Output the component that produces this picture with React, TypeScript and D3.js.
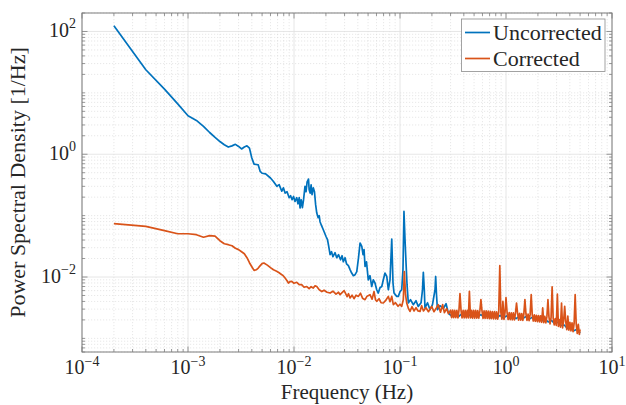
import React from 'react';
import * as d3 from 'd3';

// values: [frequency (Hz), PSD (1/Hz)]
const uncorrected: [number, number][] = [
  [2e-4, 124], [4e-4, 23.8], [6e-4, 11.5], [8e-4, 6.6], [1e-3, 4.24], [1.2e-3, 3.55], [1.4e-3, 2.84],
  [1.6e-3, 2.26], [1.8e-3, 1.88], [2e-3, 1.61], [2.2e-3, 1.43], [2.4e-3, 1.31], [2.6e-3, 1.37],
  [2.8e-3, 1.45], [3e-3, 1.34], [3.2e-3, 1.22], [3.4e-3, 1.31], [3.6e-3, 1.37], [3.8e-3, 1.26],
  [4e-3, 0.87], [4.2e-3, 0.69], [4.4e-3, 0.68], [4.6e-3, 0.67], [4.8e-3, 0.525], [5e-3, 0.49],
  [5.4e-3, 0.48], [6e-3, 0.41], [6.4e-3, 0.36], [6.89e-3, 0.3], [7.24e-3, 0.32], [7.67e-3, 0.25],
  [7.94e-3, 0.284], [8.24e-3, 0.233], [8.6e-3, 0.245], [9.0e-3, 0.196], [9.29e-3, 0.211],
  [9.6e-3, 0.1815], [9.9e-3, 0.205], [1.023e-2, 0.17], [1.062e-2, 0.196], [1.09e-2, 0.156],
  [1.12e-2, 0.196], [1.14e-2, 0.133], [1.17e-2, 0.1815], [1.2e-2, 0.135], [1.23e-2, 0.18],
  [1.27e-2, 0.3], [1.3e-2, 0.245], [1.33e-2, 0.356], [1.37e-2, 0.394], [1.39e-2, 0.264],
  [1.42e-2, 0.233], [1.45e-2, 0.318], [1.48e-2, 0.219], [1.52e-2, 0.284], [1.56e-2, 0.245],
  [1.6e-2, 0.151], [1.64e-2, 0.11], [1.69e-2, 0.0925], [1.73e-2, 0.0995], [1.76e-2, 0.0796],
  [1.82e-2, 0.0685], [1.89e-2, 0.0589], [1.94e-2, 0.0526], [2.01e-2, 0.0453], [2.07e-2, 0.0405],
  [2.12e-2, 0.0324], [2.19e-2, 0.0231], [2.26e-2, 0.0258], [2.33e-2, 0.0214], [2.44e-2, 0.0249],
  [2.53e-2, 0.0206], [2.63e-2, 0.0231], [2.75e-2, 0.0191], [2.84e-2, 0.0222], [2.92e-2, 0.0177],
  [3.03e-2, 0.0206], [3.13e-2, 0.0164], [3.26e-2, 0.0153], [3.38e-2, 0.0132], [3.49e-2, 0.0117],
  [3.63e-2, 0.0105], [3.77e-2, 0.0109], [3.91e-2, 0.0122], [4.06e-2, 0.0206], [4.2e-2, 0.0358],
  [4.36e-2, 0.0315], [4.48e-2, 0.0231], [4.58e-2, 0.0279], [4.68e-2, 0.0149], [4.83e-2, 0.0177],
  [5.02e-2, 0.009], [5.21e-2, 0.0105], [5.41e-2, 0.007], [5.6e-2, 0.009], [5.81e-2, 0.00798],
  [6.03e-2, 0.0062], [6.24e-2, 0.00548], [6.47e-2, 0.0067], [6.73e-2, 0.007], [6.96e-2, 0.009],
  [7.22e-2, 0.0116], [7.5e-2, 0.0102], [7.76e-2, 0.0062], [8.05e-2, 0.009], [8.36e-2, 0.0416],
  [8.59e-2, 0.00798], [8.78e-2, 0.00548], [9.31e-2, 0.00483], [9.64e-2, 0.00483], [0.1, 0.00577],
  [0.1038, 0.0062], [0.1067, 0.0132], [0.109, 0.117], [0.1115, 0.0406], [0.114, 0.0169],
  [0.1165, 0.0075], [0.1198, 0.00378], [0.1256, 0.00427], [0.1334, 0.00354], [0.1416, 0.00411],
  [0.1486, 0.00332], [0.158, 0.0038], [0.163, 0.0062], [0.166, 0.0119], [0.1695, 0.0062],
  [0.172, 0.00313], [0.1817, 0.0038], [0.192, 0.00293], [0.2025, 0.00354], [0.214, 0.0062],
  [0.217, 0.0102], [0.221, 0.00515], [0.2256, 0.00293], [0.238, 0.00341], [0.256, 0.00305],
  [0.272, 0.00367], [0.2835, 0.00272],
  [0.29, 2.52e-3], [0.31, 2.28e-3], [0.333, 2.51e-3], [0.357, 2.27e-3], [0.383, 2.5e-3], [0.41, 2.27e-3],
  [0.44, 2.48e-3], [0.47, 2.25e-3], [0.505, 2.46e-3], [0.54, 2.25e-3], [0.58, 2.44e-3], [0.62, 2.23e-3],
  [0.665, 2.42e-3], [0.715, 2.18e-3], [0.765, 2.39e-3], [0.82, 2.16e-3], [0.88, 2.37e-3], [0.945, 2.14e-3],
  [1.01, 2.33e-3], [1.085, 2.12e-3], [1.16, 2.31e-3], [1.245, 2.1e-3], [1.335, 2.29e-3], [1.43, 2.09e-3],
  [1.535, 2.26e-3], [1.645, 2.04e-3], [1.765, 2.2e-3], [1.89, 2.0e-3], [2.03, 2.15e-3], [2.175, 1.94e-3],
  [2.33, 2.06e-3], [2.5, 1.85e-3], [2.68, 1.96e-3], [2.87, 1.75e-3], [3.08, 1.83e-3], [3.3, 1.62e-3],
  [3.54, 1.65e-3], [3.8, 1.45e-3], [4.07, 1.54e-3], [4.36, 1.33e-3], [4.68, 1.41e-3], [5.0, 1.21e-3],
];

const corrected: [number, number][] = [
  [2e-4, 0.0738], [4e-4, 0.0667], [6e-4, 0.0568], [8e-4, 0.0507], [1e-3, 0.0507], [1.2e-3, 0.0489],
  [1.4e-3, 0.0445], [1.6e-3, 0.0471], [1.8e-3, 0.0462], [2e-3, 0.039], [2.2e-3, 0.0348], [2.4e-3, 0.0336],
  [2.6e-3, 0.0323], [2.8e-3, 0.0294], [3e-3, 0.0279], [3.2e-3, 0.0258], [3.4e-3, 0.0239], [3.6e-3, 0.0206],
  [3.8e-3, 0.0171], [4e-3, 0.0147], [4.2e-3, 0.0128], [4.4e-3, 0.0131], [4.6e-3, 0.014], [4.8e-3, 0.0153],
  [5e-3, 0.0165], [5.2e-3, 0.0169], [5.6e-3, 0.0156], [6e-3, 0.0142], [6.4e-3, 0.0131],
  [6.86e-3, 0.0124], [7.24e-3, 0.0117], [7.67e-3, 0.0109], [7.98e-3, 0.0103], [8.24e-3, 0.0096],
  [8.6e-3, 0.0087], [8.86e-3, 0.00798], [9.16e-3, 0.0084], [9.53e-3, 0.0085], [1.0e-2, 0.0079],
  [1.062e-2, 0.0082], [1.12e-2, 0.0075], [1.18e-2, 0.0075], [1.245e-2, 0.0068], [1.32e-2, 0.007],
  [1.39e-2, 0.00645], [1.45e-2, 0.00695], [1.52e-2, 0.0066], [1.58e-2, 0.0072], [1.64e-2, 0.007],
  [1.73e-2, 0.0062], [1.83e-2, 0.0058], [1.92e-2, 0.0061], [2.05e-2, 0.00565], [2.19e-2, 0.00548],
  [2.33e-2, 0.00587], [2.49e-2, 0.00525], [2.63e-2, 0.00565], [2.72e-2, 0.00515], [2.84e-2, 0.00555],
  [2.97e-2, 0.00598], [3.03e-2, 0.0056], [3.17e-2, 0.00478], [3.27e-2, 0.00535], [3.38e-2, 0.00455],
  [3.53e-2, 0.00505], [3.68e-2, 0.00443], [3.85e-2, 0.00505], [4.05e-2, 0.00483], [4.24e-2, 0.00544],
  [4.43e-2, 0.00452], [4.68e-2, 0.00427], [4.89e-2, 0.00487], [5.21e-2, 0.00515], [5.45e-2, 0.00435],
  [5.69e-2, 0.0058], [5.87e-2, 0.00427], [6.03e-2, 0.00401], [6.34e-2, 0.00443], [6.62e-2, 0.00381],
  [6.96e-2, 0.00377], [7.3e-2, 0.00411], [7.76e-2, 0.00483], [8.05e-2, 0.00396], [8.36e-2, 0.00483],
  [8.65e-2, 0.00354], [9.07e-2, 0.00381], [9.58e-2, 0.00334], [0.1, 0.0036], [0.1038, 0.00332],
  [0.1074, 0.00427], [0.1099, 0.0123], [0.1128, 0.00515], [0.1157, 0.00377], [0.1203, 0.00305],
  [0.1242, 0.00275], [0.1297, 0.00328], [0.1355, 0.0028], [0.1416, 0.00316], [0.148, 0.0028],
  [0.1545, 0.00275], [0.16, 0.00341], [0.1665, 0.0028], [0.1757, 0.00316], [0.1856, 0.00272],
  [0.199, 0.00332], [0.209, 0.00272], [0.221, 0.00316], [0.2296, 0.00354], [0.241, 0.00267],
  [0.2525, 0.00354], [0.2625, 0.00262], [0.2754, 0.00305], [0.2865, 0.00253],
  [0.3, 2.88e-3], [0.307, 2.17e-3], [0.314, 2.88e-3], [0.321, 2.17e-3], [0.3285, 2.87e-3], [0.336, 2.17e-3],
  [0.344, 2.87e-3], [0.352, 2.16e-3], [0.36, 2.87e-3], [0.368, 5.35e-3], [0.3765, 2.87e-3], [0.385, 2.16e-3],
  [0.394, 2.86e-3], [0.403, 2.16e-3], [0.4125, 2.86e-3], [0.422, 2.15e-3], [0.4315, 2.86e-3], [0.4415, 2.15e-3],
  [0.4515, 5.83e-3], [0.462, 2.15e-3], [0.4725, 2.85e-3], [0.4835, 2.14e-3], [0.4945, 2.85e-3], [0.506, 2.14e-3],
  [0.5175, 2.85e-3], [0.5295, 2.14e-3], [0.5415, 2.84e-3], [0.554, 2.13e-3], [0.567, 2.83e-3], [0.58, 4.27e-3],
  [0.5935, 2.82e-3], [0.607, 2.12e-3], [0.621, 2.81e-3], [0.635, 2.12e-3], [0.65, 2.8e-3], [0.665, 2.11e-3],
  [0.68, 2.78e-3], [0.696, 2.1e-3], [0.712, 2.76e-3], [0.728, 2.09e-3], [0.745, 2.74e-3], [0.762, 2.08e-3],
  [0.78, 2.72e-3], [0.798, 2.07e-3], [0.816, 2.7e-3], [0.835, 2.06e-3], [0.854, 2.69e-3], [0.874, 1.53e-2],
  [0.894, 2.68e-3], [0.914, 2.05e-3], [0.935, 4.0e-3], [0.957, 2.04e-3], [0.979, 2.65e-3], [1.0, 4.6e-3],
  [1.024, 2.64e-3], [1.048, 2.03e-3], [1.072, 2.63e-3], [1.097, 2.02e-3], [1.122, 2.61e-3], [1.148, 2.01e-3],
  [1.174, 2.6e-3], [1.201, 2.0e-3], [1.229, 2.59e-3], [1.257, 3.77e-3], [1.286, 2.57e-3], [1.316, 1.99e-3],
  [1.346, 2.55e-3], [1.377, 1.98e-3], [1.409, 2.53e-3], [1.441, 1.97e-3], [1.474, 2.52e-3], [1.508, 4.27e-3],
  [1.543, 2.5e-3], [1.578, 1.96e-3], [1.615, 2.48e-3], [1.652, 1.95e-3], [1.69, 2.46e-3], [1.729, 5.15e-3],
  [1.768, 2.44e-3], [1.809, 1.92e-3], [1.851, 2.41e-3], [1.893, 1.9e-3], [1.937, 2.38e-3], [1.981, 1.88e-3],
  [2.027, 2.36e-3], [2.073, 1.86e-3], [2.121, 2.33e-3], [2.17, 1.83e-3], [2.22, 3.13e-3], [2.271, 1.81e-3],
  [2.323, 2.29e-3], [2.376, 1.79e-3], [2.431, 2.26e-3], [2.487, 4.27e-3], [2.544, 2.22e-3], [2.602, 1.72e-3],
  [2.662, 2.18e-3], [2.724, 6.93e-3], [2.786, 2.14e-3], [2.85, 1.66e-3], [2.916, 2.1e-3], [2.983, 1.63e-3],
  [3.052, 5.28e-3], [3.122, 1.57e-3], [3.194, 2.02e-3], [3.267, 1.53e-3], [3.342, 3.77e-3], [3.419, 1.48e-3],
  [3.498, 1.94e-3], [3.578, 3.32e-3], [3.66, 1.89e-3], [3.745, 1.39e-3], [3.831, 2.3e-3], [3.919, 1.36e-3],
  [4.009, 1.83e-3], [4.101, 1.33e-3], [4.196, 1.79e-3], [4.292, 1.29e-3], [4.391, 1.75e-3], [4.492, 5.15e-3],
  [4.595, 1.72e-3], [4.701, 1.2e-3], [4.809, 1.69e-3], [4.92, 1.16e-3], [5.0, 1.4e-3],
];

const seriesNames = ['Uncorrected', 'Corrected'];
const seriesColors = ['#0072BD', '#D95319'];
const xLabelExps = [-4, -3, -2, -1, 0, 1];
const yLabelExps = [-2, 0, 2];

const W = 626;
const H = 405;
const plot = { left: 82, top: 13, right: 612, bottom: 352 };
const font = "'Liberation Serif', 'DejaVu Serif', serif";
const axisColor = '#7d7d7d';
const textColor = '#262626';

const sup = (e: number) => (e < 0 ? '\u2212' + Math.abs(e) : String(e));

export default function App() {
  const x = d3.scaleLog().domain([1e-4, 10]).range([plot.left, plot.right]);
  const y = d3.scaleLog().domain([6e-4, 200]).range([plot.bottom, plot.top]);

  const isDecade = (v: number) => Math.abs(Math.log10(v) - Math.round(Math.log10(v))) < 1e-6;
  const xTicks = x.ticks();
  const yTicks = y.ticks().filter((v) => v >= 6e-4 && v <= 200);
  const yMajor = (v: number) => isDecade(v) && yLabelExps.includes(Math.round(Math.log10(v)));

  const line = d3
    .line<[number, number]>()
    .x((d) => x(d[0]))
    .y((d) => y(d[1]));

  const series = [uncorrected, corrected];

  return (
    <svg width={W} height={H} style={{ position: 'absolute', left: 0, top: 0, fontFamily: font }}>
      <rect x={0} y={0} width={W} height={H} fill="#fff" />
      <defs>
        <clipPath id="plotclip">
          <rect x={plot.left} y={plot.top} width={plot.right - plot.left} height={plot.bottom - plot.top} />
        </clipPath>
      </defs>
      {/* grid */}
      <g>
        {xTicks.filter((v) => !isDecade(v)).map((v, i) => (
          <line key={'xm' + i} x1={x(v)} x2={x(v)} y1={plot.top} y2={plot.bottom}
            stroke="#d8d8d8" strokeWidth={0.6} strokeDasharray="1.2 1.8" />
        ))}
        {yTicks.filter((v) => !yMajor(v)).map((v, i) => (
          <line key={'ym' + i} x1={plot.left} x2={plot.right} y1={y(v)} y2={y(v)}
            stroke="#d8d8d8" strokeWidth={0.6} strokeDasharray="1.2 1.8" />
        ))}
        {xTicks.filter(isDecade).map((v, i) => (
          <line key={'xM' + i} x1={x(v)} x2={x(v)} y1={plot.top} y2={plot.bottom} stroke="#e0e0e0" strokeWidth={0.8} />
        ))}
        {yTicks.filter(yMajor).map((v, i) => (
          <line key={'yM' + i} x1={plot.left} x2={plot.right} y1={y(v)} y2={y(v)} stroke="#e0e0e0" strokeWidth={0.8} />
        ))}
      </g>
      {/* series */}
      <g clipPath="url(#plotclip)">
        {series.map((s, i) => (
          <path key={i} d={line(s) || ''} fill="none" stroke={seriesColors[i]} strokeWidth={1.7} strokeLinejoin="round" />
        ))}
      </g>
      {/* axes box and ticks */}
      <rect x={plot.left} y={plot.top} width={plot.right - plot.left} height={plot.bottom - plot.top}
        fill="none" stroke={axisColor} strokeWidth={1} />
      <g stroke={axisColor} strokeWidth={0.8}>
        {xTicks.map((v, i) => {
          const len = isDecade(v) ? 5.5 : 3;
          return (
            <g key={'xt' + i}>
              <line x1={x(v)} x2={x(v)} y1={plot.bottom} y2={plot.bottom - len} />
              <line x1={x(v)} x2={x(v)} y1={plot.top} y2={plot.top + len} />
            </g>
          );
        })}
        {yTicks.map((v, i) => {
          const len = yMajor(v) ? 5.5 : 3;
          return (
            <g key={'yt' + i}>
              <line x1={plot.left} x2={plot.left + len} y1={y(v)} y2={y(v)} />
              <line x1={plot.right} x2={plot.right - len} y1={y(v)} y2={y(v)} />
            </g>
          );
        })}
      </g>
      {/* tick labels */}
      <g fill={textColor}>
        {xLabelExps.map((e) => (
          <text key={'xl' + e} x={x(Math.pow(10, e))} y={374} textAnchor="middle" fontSize={20}>
            10<tspan fontSize={14} dy={-8.5}>{sup(e)}</tspan>
          </text>
        ))}
        {yLabelExps.map((e) => (
          <text key={'yl' + e} x={76} y={y(Math.pow(10, e)) + 5.5} textAnchor="end" fontSize={20}>
            10<tspan fontSize={14} dy={-8.5}>{sup(e)}</tspan>
          </text>
        ))}
      </g>
      {/* axis labels */}
      <text x={(plot.left + plot.right) / 2} y={398.5} textAnchor="middle" fontSize={21} fill={textColor}>
        Frequency (Hz)
      </text>
      <text transform={`translate(25,${(plot.top + plot.bottom) / 2}) rotate(-90)`} textAnchor="middle"
        fontSize={22} fill={textColor}>
        Power Spectral Density [1/Hz]
      </text>
      {/* legend */}
      <g>
        <rect x={461.5} y={19} width={143.5} height={52.5} fill="#fff" stroke="#8c8c8c" strokeWidth={0.8} />
        {seriesNames.map((n, i) => (
          <g key={n}>
            <line x1={465} x2={490} y1={32.5 + i * 26} y2={32.5 + i * 26} stroke={seriesColors[i]} strokeWidth={1.7} />
            <text x={493} y={32.5 + i * 26 + 7} fontSize={22} fill={textColor}>{n}</text>
          </g>
        ))}
      </g>
    </svg>
  );
}
